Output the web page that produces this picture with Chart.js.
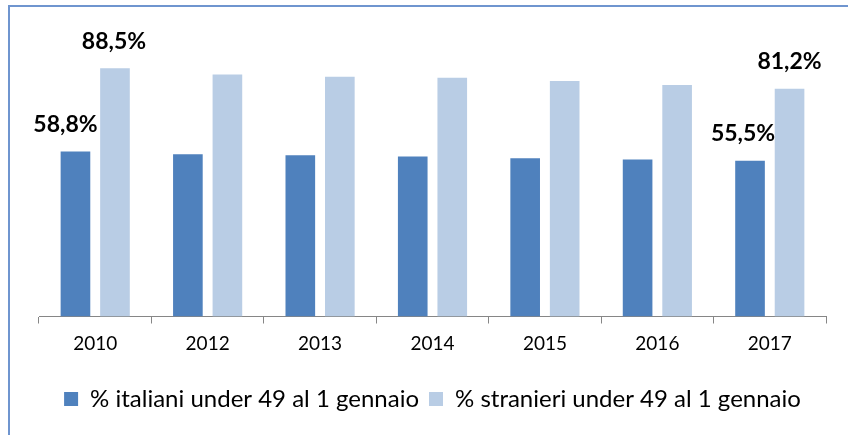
<!DOCTYPE html>
<html>
<head>
<meta charset="utf-8">
<script src="https://cdn.jsdelivr.net/npm/chart.js@4/dist/chart.umd.min.js"></script>
<style>
  html, body { margin: 0; padding: 0; background: #ffffff; }
  #wrap { position: relative; width: 848px; height: 435px; overflow: hidden; }
  #frame {
    position: absolute; left: 8px; top: 5px; width: 860px; height: 450px;
    border-left: 2px solid #6f95cf; border-top: 2px solid #6f95cf;
    box-sizing: border-box; pointer-events: none;
  }
  canvas { position: absolute; left: 0; top: 0; }
</style>
</head>
<body>
<div id="wrap">
  <canvas id="chart" width="848" height="435"></canvas>
  <div id="frame"></div>
</div>
<script>
// Anni di riferimento (1 gennaio)
const anni = ['2010', '2012', '2013', '2014', '2015', '2016', '2017'];
// Quota di donne under 49, italiane e straniere (%)
const italiani = [58.8, 57.8, 57.5, 57.0, 56.4, 56.0, 55.5];
const stranieri = [88.5, 86.3, 85.5, 85.1, 84.0, 82.5, 81.2];
const nomiSerie = ['% italiani under 49 al 1 gennaio', '% stranieri under 49 al 1 gennaio'];
// Indici degli anni con etichetta del valore (primo e ultimo)
const anniEtichettati = [0, anni.length - 1];

const FONT = 'Lato, "Open Sans", "DejaVu Sans", sans-serif';

function formatta(v) {
  return v.toFixed(1).replace('.', ',') + '%';
}

// Etichette dei valori sopra le barre del primo e dell'ultimo anno
const etichettePlugin = {
  id: 'etichette',
  afterDatasetsDraw(chart, args, opts) {
    const ctx = chart.ctx;
    ctx.save();
    ctx.font = 'bold 23px ' + FONT;
    ctx.fillStyle = '#000000';
    ctx.textAlign = 'center';
    ctx.textBaseline = 'middle';
    chart.data.datasets.forEach((ds, di) => {
      const meta = chart.getDatasetMeta(di);
      anniEtichettati.forEach((idx, k) => {
        const bar = meta.data[idx];
        const dx = opts.spostamenti[di][k];
        ctx.fillText(formatta(ds.data[idx]), bar.x + dx, bar.y - 27);
      });
    });
    ctx.restore();
  }
};

new Chart(document.getElementById('chart'), {
  type: 'bar',
  data: {
    labels: anni,
    datasets: [
      { label: nomiSerie[0], data: italiani, backgroundColor: '#4f81bd' },
      { label: nomiSerie[1], data: stranieri, backgroundColor: '#b9cde5' }
    ]
  },
  options: {
    responsive: false,
    animation: false,
    devicePixelRatio: 1,
    categoryPercentage: 0.703,
    barPercentage: 0.75,
    layout: { padding: { left: 39, right: 22, top: 36, bottom: 14 } },
    scales: {
      y: { display: false, min: 0, max: 100 },
      x: {
        grid: {
          display: true, drawOnChartArea: false, drawTicks: true,
          tickLength: 7, color: '#868686', offset: true
        },
        border: { display: true, color: '#868686', width: 1 },
        ticks: { color: '#000000', font: { family: FONT, size: 19 }, padding: 9 },
        afterFit(scale) { scale.height = 60.5; }
      }
    },
    plugins: {
      legend: {
        position: 'bottom',
        labels: {
          color: '#000000',
          font: { family: FONT, size: 24 },
          boxWidth: 14, boxHeight: 14, padding: 10
        }
      },
      tooltip: { enabled: false },
      etichette: { spostamenti: [[-10, -7], [-1, 0]] }
    }
  },
  plugins: [etichettePlugin]
});
</script>
</body>
</html>
